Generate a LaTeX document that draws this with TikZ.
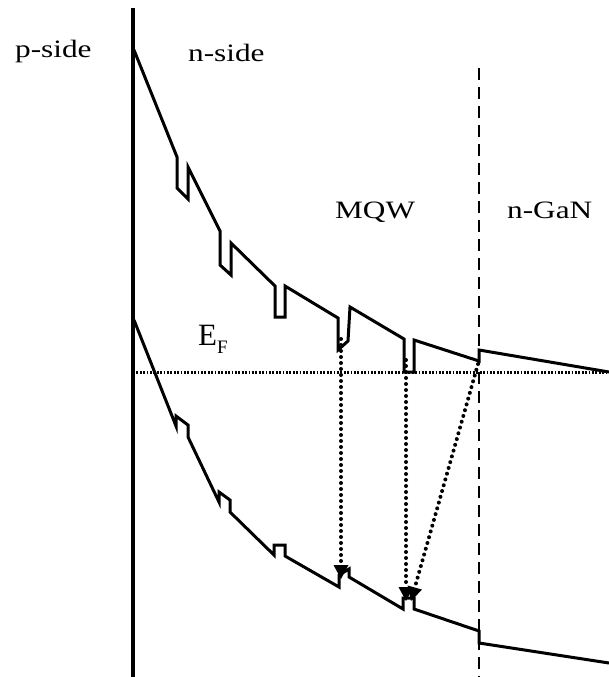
\documentclass[tikz,border=0pt]{standalone}
\usepackage{fontspec}
\setmainfont{Liberation Serif}
\usetikzlibrary{arrows.meta}
\tikzset{
  band/.style={line width=3pt, line join=miter},
  wall/.style={line width=4.5pt},
  boundary/.style={line width=2.8pt, dash pattern=on 12pt off 7pt},
  fermi/.style={line width=3pt, dash pattern=on 1.8pt off 1.6pt},
  dotarrow/.style={line width=4pt, line cap=round, dash pattern=on 0pt off 6pt,
    -{Triangle[length=14pt,width=15pt,line width=0pt]}},
  lbl/.style={inner sep=0pt, anchor=base west, font=\fontsize{25}{28}\selectfont},
}
\newcommand{\hstr}[1]{\scalebox{1.25}[1]{#1}}
\begin{document}
\begin{tikzpicture}[x=1pt,y=-1pt]
\useasboundingbox (0,0) rectangle (609,677);
% walls
\draw[wall] (133,8) -- (133,677);
\draw[boundary] (479,68) -- (479,677);
% Fermi level
\coordinate (f0) at (133,372);
\coordinate (f1) at (609,372);
\draw[fermi] (f0) -- (f1);
% conduction band
\draw[band] (134,50) -- (177,157) -- (177,188) -- (188,199) -- (188,167)
  -- (220,231) -- (220,265) -- (231,275) -- (231,243)
  -- (275,286) -- (275,317) -- (285,317) -- (285,286)
  -- (338,318) -- (338,350) -- (348,341) -- (350,307)
  -- (404,339) -- (404,372) -- (414,372) -- (414,340)
  -- (479,361) -- (479,350) -- (609,372);
% valence band
\draw[band] (134,320) -- (176,426) -- (176,416) -- (188,425) -- (188,437)
  -- (219,502) -- (219,492) -- (230,500) -- (230,512)
  -- (274,555) -- (274,545) -- (285,545) -- (285,556)
  -- (339,587) -- (339,575) -- (349,569) -- (349,577)
  -- (403,609) -- (403,598) -- (414,598) -- (414,609)
  -- (479,631) -- (479,643) -- (609,663);
% transitions
\coordinate (c1) at (341,339);
\coordinate (v1) at (341,579);
\coordinate (c2) at (406,360);
\coordinate (v2) at (406,601);
\coordinate (c3) at (478,364);
\coordinate (v3) at (411,601);
\draw[dotarrow] (c1) -- (v1);
\draw[dotarrow] (c2) -- (v2);
\draw[dotarrow] (c3) -- (v3);
% labels
\node[lbl] (pside) at (15,58) {\hstr{p-side}};
\node[lbl] (nside) at (188,62) {\hstr{n-side}};
\node[lbl] (mqw) at (335,218) {\hstr{MQW}};
\node[lbl] (ngan) at (507,218) {\hstr{n-GaN}};
\node[inner sep=0pt, anchor=base west, font=\fontsize{31}{36}\selectfont] (ef) at (198,345) {E\raisebox{-0.28em}{\fontsize{19}{22}\selectfont F}};
\end{tikzpicture}
\end{document}
